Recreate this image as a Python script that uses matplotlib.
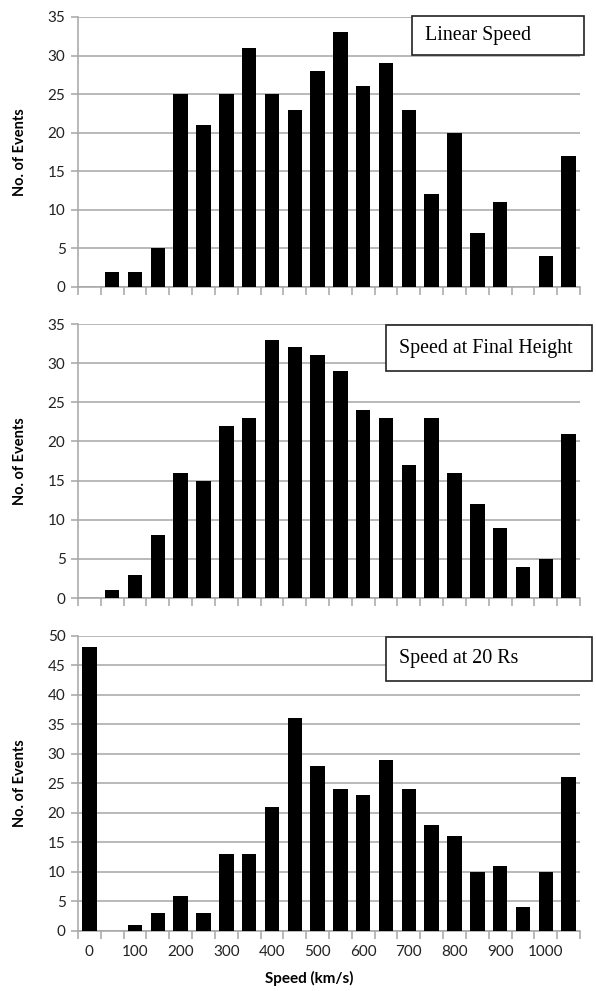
import numpy as np
import matplotlib.pyplot as plt

# speed bins (km/s), 50 km/s wide
speeds = [0, 50, 100, 150, 200, 250, 300, 350, 400, 450, 500,
          550, 600, 650, 700, 750, 800, 850, 900, 950, 1000, 1050]

linear_speed = [0, 2, 2, 5, 25, 21, 25, 31, 25, 23, 28,
                33, 26, 29, 23, 12, 20, 7, 11, 0, 4, 17]
final_height_speed = [0, 1, 3, 8, 16, 15, 22, 23, 33, 32, 31,
                      29, 24, 23, 17, 23, 16, 12, 9, 4, 5, 21]
speed_20rs = [48, 0, 1, 3, 6, 3, 13, 13, 21, 36, 28,
              24, 23, 29, 24, 18, 16, 10, 11, 4, 10, 26]

titles = ["Linear Speed", "Speed at Final Height", "Speed at 20 Rs"]
ymaxes = [35, 35, 50]

plt.rcParams['font.family'] = ['Lato', 'DejaVu Sans']

W, H = 596, 991
fig = plt.figure(figsize=(W / 100, H / 100), dpi=100)

# pixel boxes of the three plot areas: (top, bottom)
rows = [(17, 287), (324, 598), (635.5, 931)]
left_px, right_px = 78, 580
# label boxes (x0, y0, x1, y1) in pixels
boxes = [(412, 16, 584, 55), (386, 325, 592, 371), (386, 637, 592, 681)]

grid_col = "#a6a6a6"
x = np.arange(len(speeds))

for k, (series, title, ymax) in enumerate(zip(
        [linear_speed, final_height_speed, speed_20rs], titles, ymaxes)):
    top, bot = rows[k]
    ax = fig.add_axes([left_px / W, 1 - bot / H,
                       (right_px - left_px) / W, (bot - top) / H])
    ax.bar(x, series, width=0.63, color="black", zorder=3)
    ax.set_xlim(-0.5, len(speeds) - 0.5)
    ax.set_ylim(0, ymax)
    ax.set_yticks(np.arange(0, ymax + 1, 5))
    ax.yaxis.grid(True, color=grid_col, lw=1.1, zorder=0)
    ax.set_axisbelow(True)
    for s in ["top", "right"]:
        ax.spines[s].set_visible(False)
    for s in ["left", "bottom"]:
        ax.spines[s].set_color(grid_col)
        ax.spines[s].set_linewidth(1.1)
    ax.tick_params(axis="y", length=5, color=grid_col, width=1.1,
                   labelsize=11, labelcolor="#222222", pad=4)
    ax.set_xticks(np.arange(-0.5, len(speeds), 1.0), minor=True)
    ax.tick_params(axis="x", which="minor", length=6, color=grid_col, width=1.1)
    ax.set_xticks(x[::2])
    if k == 2:
        ax.set_xticklabels([str(s) for s in speeds[::2]])
    else:
        ax.set_xticklabels([])
    ax.tick_params(axis="x", which="major", length=0, labelsize=11,
                   labelcolor="#222222", pad=10)
    fig.text(20 / W, 1 - ((top + bot) / 2) / H, "No. of Events",
             rotation=90, ha="center", va="center",
             fontsize=10.5, fontweight="bold")

    bx0, by0, bx1, by1 = boxes[k]
    fig.patches.append(plt.Rectangle((bx0 / W, 1 - by1 / H),
                                     (bx1 - bx0) / W, (by1 - by0) / H,
                                     transform=fig.transFigure,
                                     facecolor="white", edgecolor="#222222",
                                     lw=1.2, zorder=5))
    fig.text((bx0 + 13) / W, 1 - ((by0 + by1) / 2) / H, title,
             ha="left", va="center", fontsize=14.4,
             family="Liberation Serif", zorder=6)

fig.text(309 / W, 1 - 978 / H, "Speed (km/s)", ha="center", va="center",
         fontsize=11, fontweight="bold")

fig.savefig("out.png", dpi=100)
